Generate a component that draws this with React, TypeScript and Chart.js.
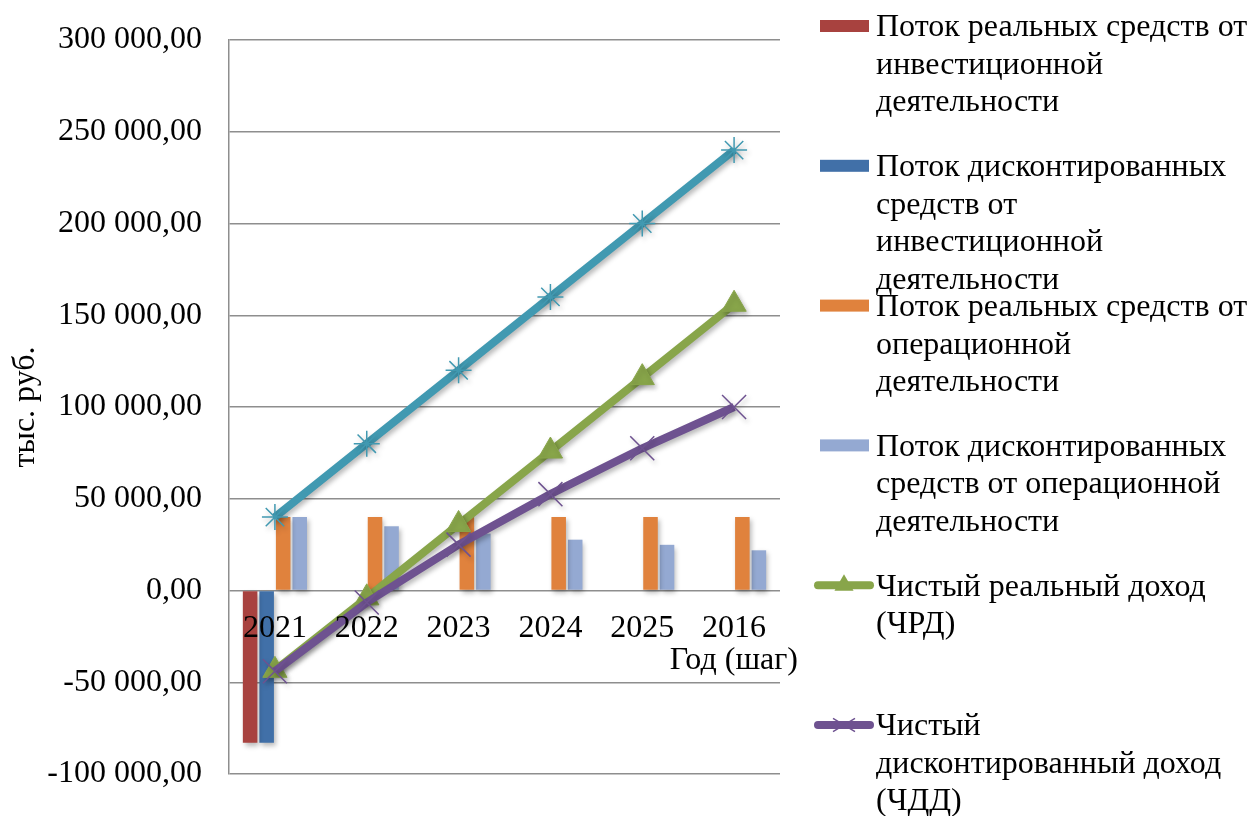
import React, { useEffect, useRef } from "react";
import { Chart, registerables } from "chart.js";

Chart.register(...registerables);

const categories = ["2021", "2022", "2023", "2024", "2025", "2016"];
const realInvestFlow = [-83000, 0, 0, 0, 0, 0];
const discInvestFlow = [-83000, 0, 0, 0, 0, 0];
const realOperFlow = [40000, 40000, 40000, 40000, 40000, 40000];
const discOperFlow = [40000, 35000, 31000, 27700, 24900, 21900];
const netRealIncome = [-43500, -4000, 36000, 76000, 116000, 156000];
const netDiscIncome = [-44000, -6500, 25000, 52500, 77500, 100000];
const cumulativeFlow = [40000, 80000, 120000, 160000, 200000, 240000];

const yTicksMin = -100000;
const yTicksMax = 300000;
const yTickStep = 50000;

const yAxisTitle = "тыс. руб.";
const xAxisTitle = "Год (шаг)";

const legendLabels = [
  ["Поток реальных средств от", "инвестиционной", "деятельности"],
  ["Поток дисконтированных", "средств от", "инвестиционной", "деятельности"],
  ["Поток реальных средств от", "операционной", "деятельности"],
  ["Поток дисконтированных", "средств от операционной", "деятельности"],
  ["Чистый реальный доход", "(ЧРД)"],
  ["Чистый", "дисконтированный доход", "(ЧДД)"],
];

const FONT = "'Liberation Serif', 'Times New Roman', serif";
const FS = 32;
const GRID = "#8e8e8e";

const formatNum = (v: number) => {
  const neg = v < 0;
  const s = Math.abs(v).toFixed(2);
  const [ip, dp] = s.split(".");
  const withSpaces = ip.replace(/\B(?=(\d{3})+(?!\d))/g, " ");
  return (neg ? "-" : "") + withSpaces + "," + dp;
};

const shadowPlugin = {
  id: "shadowPlugin",
  beforeDatasetDraw(chart: any) {
    const ctx = chart.ctx;
    ctx.save();
    ctx.shadowColor = "rgba(0,0,0,0.28)";
    ctx.shadowBlur = 5;
    ctx.shadowOffsetX = 2;
    ctx.shadowOffsetY = 3;
  },
  afterDatasetDraw(chart: any) {
    chart.ctx.restore();
  },
};

const extrasPlugin = {
  id: "extrasPlugin",
  afterDraw(chart: any) {
    const ctx = chart.ctx;
    const area = chart.chartArea;
    const yScale = chart.scales.y;
    ctx.save();
    // x axis title
    ctx.font = `${FS}px ${FONT}`;
    ctx.fillStyle = "#000";
    ctx.textAlign = "right";
    ctx.textBaseline = "middle";
    ctx.fillText(xAxisTitle, area.right + 18, yScale.getPixelForValue(0) + 70);

    // legend
    const x0 = area.right + 40;
    const textX = x0 + 56;
    const firstY = 26;
    const slot = 139.8;
    const lineH = 37.5;
    legendLabels.forEach((lines, i) => {
      const ds = chart.data.datasets[i];
      const cy = firstY + i * slot;
      if (ds.type === "line") {
        ctx.save();
        ctx.strokeStyle = ds.borderColor;
        ctx.lineWidth = 8;
        ctx.lineCap = "round";
        ctx.beginPath();
        ctx.moveTo(x0 - 2, cy);
        ctx.lineTo(x0 + 50, cy);
        ctx.stroke();
        ctx.restore();
        const style = ds.pointStyle;
        ctx.save();
        ctx.fillStyle = ds.pointBackgroundColor;
        ctx.strokeStyle = ds.pointBorderColor;
        ctx.lineWidth = 1.5;
        if (style === "triangle") {
          const r = 11;
          ctx.beginPath();
          ctx.moveTo(x0 + 24, cy - r);
          ctx.lineTo(x0 + 24 + r * 0.87, cy + r * 0.5);
          ctx.lineTo(x0 + 24 - r * 0.87, cy + r * 0.5);
          ctx.closePath();
          ctx.fill();
        } else {
          const r = 11;
          ctx.beginPath();
          ctx.moveTo(x0 + 24 - r, cy - r * 0.6);
          ctx.lineTo(x0 + 24 + r, cy + r * 0.6);
          ctx.moveTo(x0 + 24 - r, cy + r * 0.6);
          ctx.lineTo(x0 + 24 + r, cy - r * 0.6);
          ctx.stroke();
        }
        ctx.restore();
      } else {
        ctx.fillStyle = ds.backgroundColor;
        ctx.fillRect(x0, cy - 6, 49, 12);
      }
      ctx.fillStyle = "#000";
      ctx.textAlign = "left";
      ctx.textBaseline = "middle";
      ctx.font = `${FS}px ${FONT}`;
      lines.forEach((t, j) => {
        ctx.fillText(t, textX, cy + 2 + j * lineH);
      });
    });
    ctx.restore();
  },
};

export default function App() {
  const canvasRef = useRef<HTMLCanvasElement | null>(null);

  useEffect(() => {
    document.body.style.margin = "0";
    const canvas = canvasRef.current;
    if (!canvas) return;
    const barCommon = {
      type: "bar" as const,
      categoryPercentage: 0.72,
      barPercentage: 0.88,
      borderWidth: 0,
    };
    const chart = new Chart(canvas, {
      type: "bar",
      data: {
        labels: categories,
        datasets: [
          { ...barCommon, label: legendLabels[0].join(" "), data: realInvestFlow, backgroundColor: "#A8423F", order: 3 },
          { ...barCommon, label: legendLabels[1].join(" "), data: discInvestFlow, backgroundColor: "#4170A8", order: 4 },
          { ...barCommon, label: legendLabels[2].join(" "), data: realOperFlow, backgroundColor: "#E0823D", order: 5 },
          { ...barCommon, label: legendLabels[3].join(" "), data: discOperFlow, backgroundColor: "#94A9D2", order: 6 },
          {
            type: "line",
            label: legendLabels[4].join(" "),
            data: netRealIncome,
            borderColor: "#88A54A",
            backgroundColor: "#88A54A",
            borderWidth: 8,
            pointStyle: "triangle",
            pointRadius: 14,
            pointBackgroundColor: "#88A54A",
            pointBorderColor: "#88A54A",
            pointBorderWidth: 1,
            tension: 0,
            fill: false,
            order: 1,
          },
          {
            type: "line",
            label: legendLabels[5].join(" "),
            data: netDiscIncome,
            borderColor: "#6E5290",
            backgroundColor: "#6E5290",
            borderWidth: 8,
            pointStyle: "crossRot",
            pointRadius: 17,
            pointBackgroundColor: "#6E5290",
            pointBorderColor: "#6E5290",
            pointBorderWidth: 1.5,
            tension: 0,
            fill: false,
            order: 0,
          },
          {
            type: "line",
            label: "cumulative",
            data: cumulativeFlow,
            borderColor: "#4199B1",
            backgroundColor: "#4199B1",
            borderWidth: 8,
            pointStyle: "star",
            pointRadius: 13,
            pointBackgroundColor: "#4199B1",
            pointBorderColor: "#4199B1",
            pointBorderWidth: 1.5,
            tension: 0,
            fill: false,
            order: 2,
          },
        ] as any,
      },
      options: {
        responsive: false,
        animation: false,
        devicePixelRatio: 1,
        layout: { padding: { top: 40, right: 471, bottom: 42, left: 0 } },
        plugins: {
          legend: { display: false },
          tooltip: { enabled: false },
        },
        scales: {
          x: {
            type: "category",
            position: { y: 0 } as any,
            grid: { display: false, drawTicks: false },
            border: { display: false },
            ticks: {
              z: 1,
              color: "#000",
              font: { family: FONT, size: FS },
              padding: 19,
              maxRotation: 0,
              autoSkip: false,
            },
            afterFit: (s: any) => {
              s.height = 0;
            },
          },
          y: {
            type: "linear",
            min: yTicksMin,
            max: yTicksMax,
            ticks: {
              stepSize: yTickStep,
              color: "#000",
              font: { family: FONT, size: FS },
              padding: 27,
              callback: (v: any) => formatNum(Number(v)),
            },
            grid: { color: GRID, lineWidth: 1.5, drawTicks: false },
            border: { display: true, color: GRID, width: 1.5 },
            title: {
              display: true,
              text: yAxisTitle,
              color: "#000",
              font: { family: FONT, size: FS },
              padding: { top: 6, bottom: 0 },
            },
            afterFit: (s: any) => {
              s.width = 229;
              s.paddingTop = 0;
              s.paddingBottom = 0;
            },
          },
        },
      },
      plugins: [shadowPlugin, extrasPlugin],
    });
    return () => chart.destroy();
  }, []);

  return (
    <div style={{ width: 1251, height: 816, overflow: "hidden", background: "#fff" }}>
      <canvas ref={canvasRef} width={1251} height={816} style={{ display: "block" }} />
    </div>
  );
}
